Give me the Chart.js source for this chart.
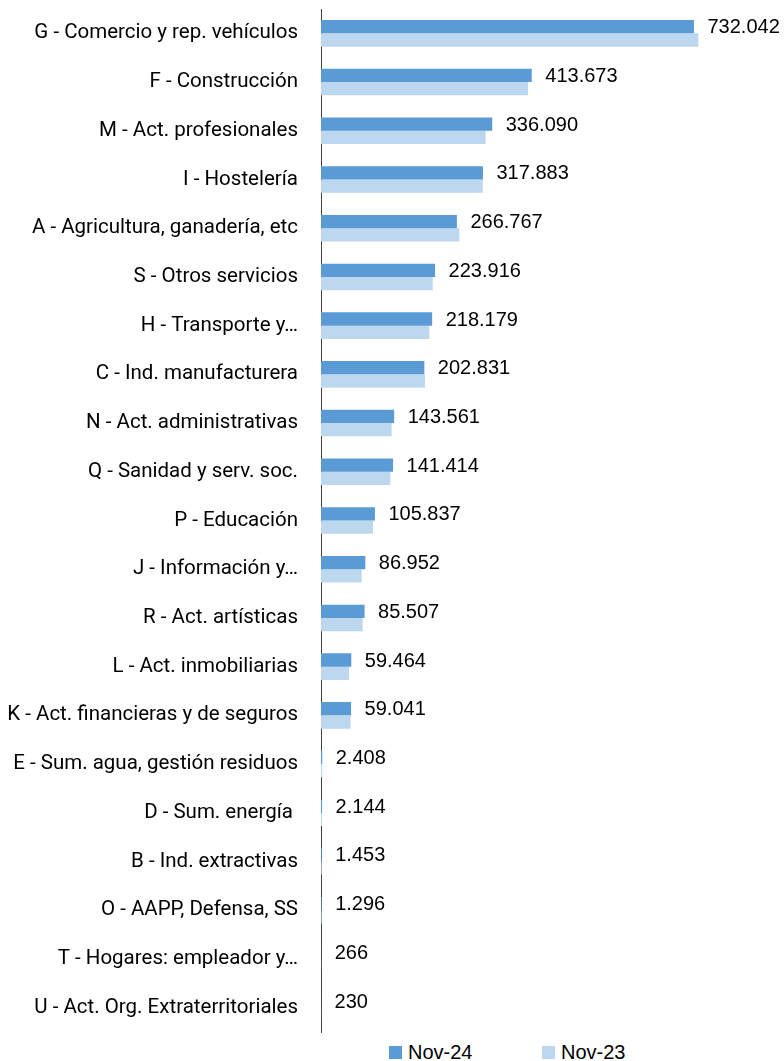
<!DOCTYPE html>
<html><head><meta charset="utf-8">
<script src="https://cdn.jsdelivr.net/npm/chart.js@4/dist/chart.umd.min.js"></script>
<style>
html,body{margin:0;padding:0;background:#fff;}
#wrap{position:relative;width:784px;height:1061px;}
#c{position:absolute;left:0;top:0;}
.leg{position:absolute;top:1042px;font:20px "Liberation Sans",Arial,sans-serif;color:#000;display:flex;align-items:center;height:21px;}
.leg span.b{display:inline-block;width:13px;height:13px;margin-right:6px;}
</style></head><body>
<div id="wrap">
<canvas id="c" width="784" height="1040"></canvas>
<div class="leg" style="left:389px"><span class="b" style="background:#5B9BD5"></span>Nov-24</div>
<div class="leg" style="left:542px"><span class="b" style="background:#BDD7EE"></span>Nov-23</div>
</div>
<script>
const categories = [
 "G - Comercio y rep. vehículos","F - Construcción","M - Act. profesionales","I - Hostelería",
 "A - Agricultura, ganadería, etc","S - Otros servicios","H - Transporte y…","C - Ind. manufacturera",
 "N - Act. administrativas","Q - Sanidad y serv. soc.","P - Educación","J - Información y…",
 "R - Act. artísticas","L - Act. inmobiliarias","K - Act. financieras y de seguros",
 "E - Sum. agua, gestión residuos","D - Sum. energía ","B - Ind. extractivas","O - AAPP, Defensa, SS",
 "T - Hogares: empleador y…","U - Act. Org. Extraterritoriales"
];
const nov24 = [732042,413673,336090,317883,266767,223916,218179,202831,143561,141414,105837,86952,85507,59464,59041,2408,2144,1453,1296,266,230];
const nov23 = [740500,406300,323200,317500,271500,219200,212600,204100,138700,136100,102000,79800,81800,55000,58000,2300,2050,1400,1250,290,210];
const seriesNames = ["Nov-24","Nov-23"];

function fmt(v){return String(v).replace(/\B(?=(\d{3})+(?!\d))/g,".");}

const labelPlugin = {
  id:'vals',
  afterDatasetsDraw(chart){
    const ctx = chart.ctx;
    const meta = chart.getDatasetMeta(0);
    ctx.save();
    ctx.font = '20px "Liberation Sans", Arial, sans-serif';
    ctx.fillStyle = '#000';
    ctx.textAlign = 'left';
    ctx.textBaseline = 'middle';
    meta.data.forEach((bar,i)=>{
      ctx.fillText(fmt(nov24[i]), bar.x + 13.5, bar.y + 1);
    });
    ctx.restore();
  }
};

new Chart(document.getElementById('c'), {
  type:'bar',
  data:{
    labels:categories,
    datasets:[
      {label:seriesNames[0], data:nov24, backgroundColor:'#5B9BD5', barPercentage:1, categoryPercentage:0.546},
      {label:seriesNames[1], data:nov23, backgroundColor:'#BDD7EE', barPercentage:1, categoryPercentage:0.546}
    ]
  },
  options:{
    indexAxis:'y',
    responsive:false,
    animation:false,
    layout:{padding:{top:9,bottom:8,left:0,right:65.6}},
    plugins:{legend:{display:false},tooltip:{enabled:false}},
    scales:{
      x:{display:false,min:0,max:780000},
      y:{
        afterFit(s){s.width=321;s.paddingTop=0;s.paddingBottom=0;},
        grid:{display:false,drawTicks:false},
        border:{display:true,color:'#404040',width:1},
        ticks:{padding:23,color:'#000',font:{family:'Roboto',size:20.5},autoSkip:false}
      }
    }
  },
  plugins:[labelPlugin]
});
</script>
</body></html>
